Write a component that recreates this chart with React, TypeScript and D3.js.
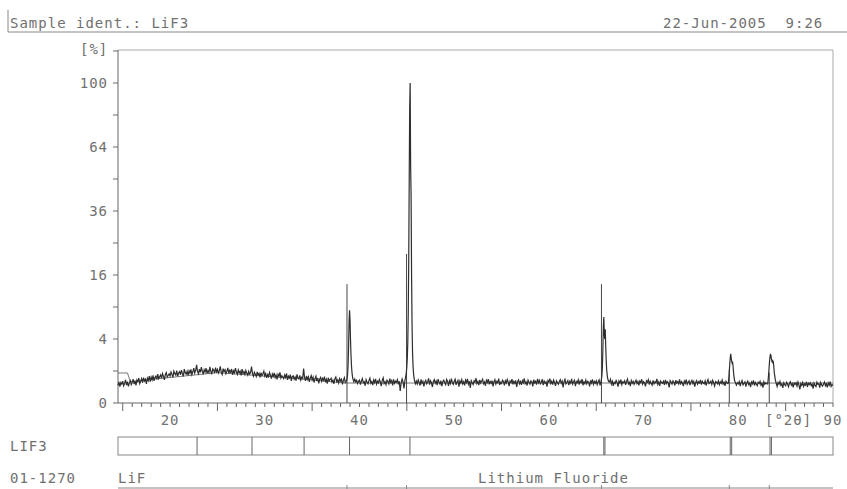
import React from "react";
import * as d3 from "d3";

// ---- data ----
// intensity (in 1/100 %) every 0.1 deg 2-theta, starting at 14.5
const noiseStart = 14.5;
const noiseStep = 0.1;
const noise = [
  30, 44, 26, 41, 35,
  47, 29, 38, 52, 31, 44, 27, 40, 49, 33, // 15
  41, 56, 35, 48, 30, 52, 44, 61, 37, 46,
  58, 40, 63, 47, 55, 36, 60, 49, 71, 45,
  66, 52, 74, 48, 63, 70, 55, 81, 58, 67,
  77, 60, 85, 69, 52, 79, 90, 66, 74, 83,
  71, 94, 80, 65, 99, 84, 76, 102, 70, 88, // 20
  96, 78, 105, 84, 69, 112, 90, 81, 98, 75,
  101, 86, 110, 79, 95, 118, 88, 104, 142, 97,
  84, 112, 92, 125, 99, 80, 108, 94, 119, 86,
  103, 90, 127, 98, 81, 114, 106, 88, 122, 95,
  110, 87, 101, 131, 93, 79, 115, 97, 108, 84, // 25
  99, 120, 86, 104, 92, 113, 78, 101, 89, 118,
  94, 80, 107, 88, 99, 74, 112, 85, 96, 79,
  103, 86, 75, 98, 82, 91, 130, 84, 70, 92,
  81, 69, 95, 77, 86, 64, 90, 73, 84, 99,
  71, 85, 62, 79, 68, 91, 74, 58, 82, 70, // 30
  88, 63, 76, 55, 81, 69, 92, 61, 73, 66,
  58, 77, 64, 85, 52, 70, 61, 79, 48, 68,
  72, 55, 66, 49, 80, 62, 57, 74, 51, 65,
  59, 116, 63, 48, 71, 55, 67, 44, 60, 73,
  52, 65, 41, 58, 70, 47, 61, 38, 56, 64, // 35
  45, 59, 50, 68, 42, 55, 37, 62, 48, 53,
  60, 43, 51, 36, 57, 66, 44, 52, 39, 58,
  47, 55, 34, 50, 62, 41, 46, 53, 44, 50,
  48, 41, 52, 45, 38, 56, 43, 50, 37, 46,
  51, 33, 47, 58, 40, 44, 29, 53, 42, 36, // 40
  49, 60, 38, 45, 31, 52, 41, 57, 35, 46,
  39, 54, 43, 28, 50, 62, 37, 44, 33, 51,
  45, 36, 58, 41, 49, 30, 55, 38, 47, 42,
  53, 34, 46, 14, 40, 57, 44, 21, 48, 45,
  50, 48, 60, 55, 45, 42, 38, 44, 40, 36, // 45
  47, 35, 52, 41, 30, 55, 38, 46, 27, 43,
  50, 36, 44, 59, 33, 48, 40, 25, 45, 53,
  38, 47, 31, 56, 42, 35, 49, 28, 44, 51,
  40, 33, 54, 45, 29, 48, 37, 58, 41, 34,
  46, 55, 32, 43, 50, 26, 47, 39, 53, 36, // 50
  44, 30, 51, 41, 57, 35, 46, 22, 49, 40,
  33, 48, 42, 60, 37, 45, 31, 52, 39, 47,
  55, 36, 43, 29, 50, 41, 56, 34, 45, 38,
  49, 27, 44, 53, 35, 46, 40, 58, 32, 42,
  37, 51, 45, 30, 48, 39, 54, 43, 28, 47, // 55
  41, 56, 34, 46, 38, 50, 25, 44, 52, 36,
  45, 32, 49, 40, 59, 37, 43, 30, 51, 42,
  35, 48, 44, 27, 53, 39, 46, 33, 57, 40,
  50, 36, 42, 55, 31, 47, 38, 44, 26, 49,
  43, 58, 37, 46, 33, 51, 40, 29, 48, 41, // 60
  34, 45, 53, 38, 47, 24, 44, 55, 36, 42,
  49, 31, 46, 39, 57, 35, 43, 50, 28, 45,
  40, 52, 33, 47, 41, 56, 30, 44, 37, 51,
  36, 46, 42, 27, 50, 39, 54, 34, 45, 38,
  48, 33, 44, 52, 30, 41, 47, 36, 53, 40, // 65
  45, 38, 49, 31, 43, 55, 35, 46, 29, 42,
  37, 50, 41, 26, 47, 39, 53, 33, 44, 40,
  48, 32, 45, 56, 36, 42, 28, 49, 38, 46,
  34, 43, 51, 37, 45, 30, 47, 41, 55, 35,
  44, 39, 27, 48, 42, 53, 33, 46, 38, 31, // 70
  50, 36, 44, 40, 57, 34, 43, 29, 47, 41,
  38, 46, 32, 52, 37, 45, 40, 24, 49, 43,
  35, 48, 42, 30, 51, 39, 44, 36, 55, 33,
  45, 40, 28, 47, 38, 53, 34, 42, 48, 31,
  43, 50, 37, 45, 26, 41, 49, 35, 44, 39, // 75
  52, 33, 46, 40, 36, 48, 30, 43, 54, 37,
  41, 47, 34, 50, 39, 28, 45, 42, 36, 48,
  33, 44, 38, 51, 35, 42, 29, 46, 40, 37,
  55, 48, 42, 39, 44, 38, 35, 43, 31, 40,
  36, 45, 28, 41, 49, 32, 38, 44, 26, 40, // 80
  47, 33, 39, 25, 43, 36, 50, 30, 41, 35,
  29, 42, 37, 46, 31, 38, 23, 44, 34, 40,
  36, 30, 45, 39, 42, 37, 33, 40, 36, 32,
  38, 27, 41, 34, 45, 30, 36, 22, 40, 33,
  29, 42, 35, 26, 38, 44, 31, 37, 24, 39, // 85
  34, 40, 28, 43, 32, 18, 37, 30, 41, 27,
  36, 31, 44, 25, 38, 33, 40, 29, 35, 20,
  39, 30, 26, 42, 34, 37, 23, 41, 32, 28,
  35, 43, 29, 36, 24, 39, 31, 45, 27, 33,
  30,
];

// peak profiles (angle, %)
const peak111Angles = [38.6, 38.65, 38.7, 38.75, 38.8, 38.85, 38.9, 38.95, 39.0, 39.05, 39.1, 39.15, 39.2, 39.25, 39.3, 39.35, 39.4];
const peak111Values = [0.46, 0.52, 0.6, 0.85, 1.5, 3.2, 6.4, 8.4, 6.8, 4.0, 2.3, 1.4, 0.95, 0.72, 0.58, 0.5, 0.44];
const peak200Angles = [44.8, 44.85, 44.9, 44.95, 45.0, 45.05, 45.1, 45.15, 45.2, 45.25, 45.3, 45.35, 45.4, 45.45, 45.5, 45.55, 45.6, 45.65, 45.7, 45.75, 45.8];
const peak200Values = [0.5, 0.6, 0.75, 0.95, 1.3, 2.0, 3.6, 8, 20, 48, 85, 100, 55, 42, 16, 6, 2.6, 1.4, 0.9, 0.65, 0.5];
const peak220Angles = [65.5, 65.55, 65.6, 65.65, 65.7, 65.75, 65.8, 65.85, 65.9, 65.95, 66.0, 66.05, 66.1, 66.15, 66.2, 66.3];
const peak220Values = [0.45, 0.55, 0.75, 1.3, 2.8, 5.6, 7.2, 4.6, 4.0, 5.3, 3.2, 1.8, 1.1, 0.8, 0.6, 0.45];
const peak311Angles = [78.95, 79.0, 79.05, 79.1, 79.15, 79.2, 79.25, 79.3, 79.35, 79.4, 79.45, 79.5, 79.55, 79.6, 79.7];
const peak311Values = [0.4, 0.6, 0.95, 1.5, 2.0, 2.35, 2.0, 1.7, 1.55, 1.6, 1.3, 0.9, 0.65, 0.5, 0.4];
const peak222Angles = [83.1, 83.15, 83.2, 83.25, 83.3, 83.35, 83.4, 83.45, 83.5, 83.55, 83.6, 83.65, 83.7, 83.75, 83.8, 83.9, 84.0];
const peak222Values = [0.35, 0.5, 0.8, 1.2, 1.7, 2.1, 2.35, 2.2, 1.9, 1.7, 1.75, 1.6, 1.65, 1.3, 0.9, 0.55, 0.38];

// background curve
const bgAngles = [14.5, 15.5, 15.8, 25, 33, 38.5, 90];
const bgValues = [0.88, 0.88, 0.45, 0.9, 0.6, 0.39, 0.39];

// reference pattern 01-1270 LiF
const refAngles = [38.68, 44.97, 65.55, 79.05, 83.27];
const refValues = [13.8, 21.7, 13.8, 1.1, 0.9];

// peak list of sample LIF3 (bar below plot)
const foundPeaks = [22.85, 28.65, 34.15, 38.95, 45.33, 65.8, 65.92, 79.15, 79.3, 83.35, 83.5];

const yMajor = [0, 4, 16, 36, 64, 100];
const yMinor = [1, 9, 25, 49, 81];
const xLabels = [20, 30, 40, 50, 60, 70, 80, 90];

const font = "'DejaVu Sans Mono', monospace";
const textColor = "#707070";

export default function App() {
  const left = 118, right = 833, top = 50, bottom = 403;
  const x = d3.scaleLinear().domain([14.5, 90]).range([left, right]);
  const y = d3.scaleSqrt().domain([0, 121]).range([bottom, top + 1]);

  const peaks = [
    [peak111Angles, peak111Values],
    [peak200Angles, peak200Values],
    [peak220Angles, peak220Values],
    [peak311Angles, peak311Values],
    [peak222Angles, peak222Values],
  ];
  const inPeak = (a: number) =>
    peaks.some(([as]) => a >= as[0] - 1e-6 && a <= as[as.length - 1] + 1e-6);

  const pts: [number, number][] = noise
    .map((v, i) => [noiseStart + i * noiseStep, v / 100] as [number, number])
    .filter(([a]) => !inPeak(a));
  peaks.forEach(([as, vs]) => as.forEach((a, i) => pts.push([a, vs[i]])));
  pts.sort((p, q) => p[0] - q[0]);

  const line = d3
    .line<[number, number]>()
    .x((d) => x(d[0]))
    .y((d) => y(d[1]));
  const bgLine = line(bgAngles.map((a, i) => [a, bgValues[i]] as [number, number]));

  const xMinor = d3.range(15, 91, 1);
  const txt = {
    fontFamily: font,
    fontSize: 14,
    fill: textColor,
    letterSpacing: 1,
  } as React.CSSProperties;

  return (
    <svg
      width={847}
      height={489}
      style={{ position: "absolute", left: 0, top: 0, background: "#fff" }}
    >
      {/* header */}
      <line x1={8} x2={8} y1={10} y2={32} stroke="#888" />
      <line x1={8} x2={847} y1={32} y2={32} stroke="#888" />
      <text x={10} y={28} style={txt}>Sample ident.: LiF3</text>
      <text x={663} y={28} style={txt} xmlSpace="preserve">22-Jun-2005  9:26</text>

      {/* frame */}
      <line x1={left} x2={right} y1={top} y2={top} stroke="#aaa" />
      <line x1={right} x2={right} y1={top} y2={bottom} stroke="#aaa" />
      <line x1={left} x2={left} y1={top} y2={bottom} stroke="#666" />
      <line x1={left} x2={right} y1={bottom} y2={bottom} stroke="#666" />
      <text x={80} y={54} style={txt}>[%]</text>

      {/* y ticks */}
      {[...yMajor, ...yMinor, 121].map((v) => (
        <line key={"yt" + v} x1={left - 5} x2={left} y1={y(v)} y2={y(v)} stroke="#666" />
      ))}
      {yMajor.map((v) => (
        <text key={"yl" + v} x={108} y={y(v) + 5} textAnchor="end" style={txt}>
          {v}
        </text>
      ))}

      {/* x ticks */}
      {xMinor.map((v) => (
        <line
          key={"xt" + v}
          x1={x(v)}
          x2={x(v)}
          y1={bottom}
          y2={bottom + (v % 5 === 0 && v % 10 !== 0 ? 8 : 4)}
          stroke="#666"
        />
      ))}
      {xLabels.map((v) => (
        <text key={"xl" + v} x={x(v)} y={425} textAnchor="middle" style={txt}>
          {v}
        </text>
      ))}
      <text x={765} y={425} style={txt}>[°2θ]</text>

      {/* background and reference sticks */}
      <path d={bgLine || ""} fill="none" stroke="#555" strokeWidth={0.8} />
      {refAngles.map((a, i) => (
        <line
          key={"ref" + a}
          x1={x(a)}
          x2={x(a)}
          y1={y(0)}
          y2={y(refValues[i])}
          stroke="#444"
          strokeWidth={1}
        />
      ))}

      {/* measured pattern */}
      <path d={line(pts) || ""} fill="none" stroke="#2e2e2e" strokeWidth={1.2} />

      {/* peak list bar */}
      <text x={10} y={451} style={txt}>LIF3</text>
      <rect x={left} y={437} width={right - left} height={18} fill="none" stroke="#888" />
      {foundPeaks.map((a) => (
        <line key={"fp" + a} x1={x(a)} x2={x(a)} y1={437} y2={455} stroke="#666" />
      ))}

      {/* reference card */}
      <text x={10} y={483} style={txt}>01-1270</text>
      <text x={left} y={483} style={txt}>LiF</text>
      <text x={478} y={483} style={txt}>Lithium Fluoride</text>
      <line x1={left} x2={right} y1={488} y2={488} stroke="#888" />
      {refAngles.map((a) => (
        <line key={"rb" + a} x1={x(a)} x2={x(a)} y1={485} y2={489} stroke="#888" />
      ))}
    </svg>
  );
}
